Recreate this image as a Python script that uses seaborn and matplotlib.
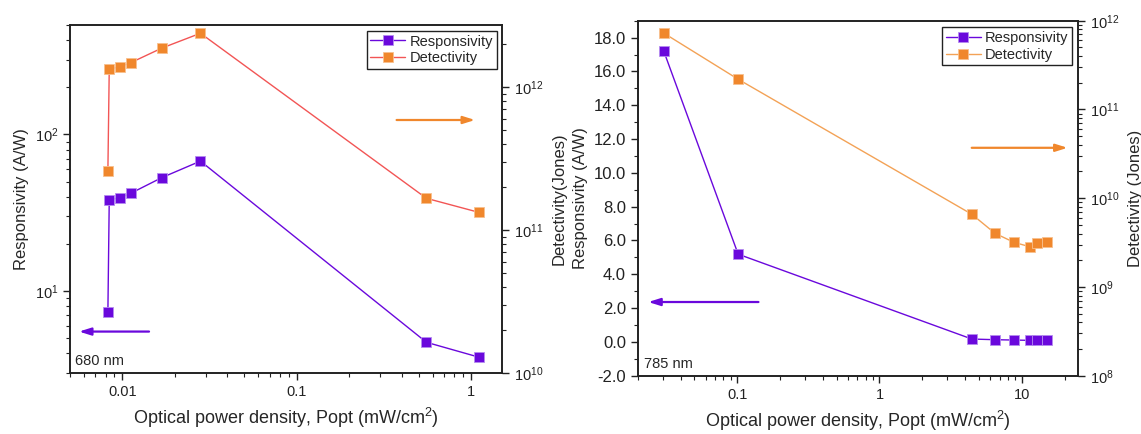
import matplotlib
matplotlib.use("Agg")
import matplotlib.pyplot as plt
from matplotlib.ticker import NullFormatter, MultipleLocator, FormatStrFormatter
import seaborn as sns
import pandas as pd

# 680 nm illumination
p680 = [0.00825, 0.0084, 0.00966, 0.0112, 0.0168, 0.028, 0.553, 1.11]
resp680 = [7.3, 38.1, 39.5, 42.2, 53.0, 67.6, 4.71, 3.78]
det680 = [2.58e11, 1.34e12, 1.39e12, 1.49e12, 1.88e12, 2.39e12, 1.67e11, 1.33e11]

# 785 nm illumination
p785 = [0.0304, 0.1016, 4.46, 6.49, 8.83, 11.4, 12.9, 15.0]
resp785 = [17.23, 5.19, 0.17, 0.13, 0.11, 0.09, 0.09, 0.09]
det785 = [7.27e11, 2.19e11, 6.59e9, 4.02e9, 3.18e9, 2.84e9, 3.13e9, 3.18e9]

PURPLE = "#6a08dc"
ORANGE = "#f0872c"
RED = "#f25555"
LORANGE = "#f3a256"

sns.set_style("ticks")
plt.rcParams["font.family"] = ["Liberation Sans", "DejaVu Sans"]
plt.rcParams["mathtext.fontset"] = "custom"
plt.rcParams["mathtext.rm"] = "Liberation Sans"
plt.rcParams["axes.edgecolor"] = "#222222"
plt.rcParams["axes.linewidth"] = 1.2
plt.rcParams["xtick.color"] = "#222222"
plt.rcParams["ytick.color"] = "#222222"

fig = plt.figure(figsize=(11.41, 4.34), dpi=100)
ax1 = fig.add_axes([0.0613, 0.1406, 0.3787, 0.8018])
ax3 = fig.add_axes([0.5589, 0.1343, 0.3862, 0.8180])

df680 = pd.DataFrame({"p": p680, "r": resp680, "d": det680})
df785 = pd.DataFrame({"p": p785, "r": resp785, "d": det785})

LBL = 12
XLBL = 13
TCK = 10.5
XLABEL = "Optical power density, Popt (mW/cm$^{2}$)"


def style_ticks(ax, size=TCK):
    ax.tick_params(which="major", direction="out", length=5, width=1.0, labelsize=size)
    ax.tick_params(which="minor", direction="out", length=3, width=0.8)


def add_legend(ax_main, ax_twin, anchor):
    h1, l1 = ax_main.get_legend_handles_labels()
    h2, l2 = ax_twin.get_legend_handles_labels()
    if ax_main.get_legend():
        ax_main.get_legend().remove()
    leg = ax_twin.legend(h1 + h2, l1 + l2, loc="upper right", bbox_to_anchor=anchor,
                         frameon=True, fancybox=False, edgecolor="#222222", framealpha=1,
                         fontsize=10.5, handlelength=2.4, handletextpad=0.3,
                         labelspacing=0.2, borderpad=0.25, borderaxespad=0)
    leg.get_frame().set_linewidth(1.0)


def arrow(ax, tail, head, color):
    ax.annotate("", xy=head, xytext=tail, xycoords="axes fraction", textcoords="axes fraction",
                arrowprops=dict(arrowstyle="-|>,head_length=0.7,head_width=0.22",
                                color=color, lw=1.6, shrinkA=0, shrinkB=0))


# ---- Left panel: 680 nm ----
sns.lineplot(data=df680, x="p", y="r", ax=ax1, color=PURPLE, marker="s", markersize=7,
             markeredgecolor="#b58cf0", markeredgewidth=0.6, linewidth=1.0, label="Responsivity")
ax2 = ax1.twinx()
sns.lineplot(data=df680, x="p", y="d", ax=ax2, color=RED, marker="s", markersize=7,
             markerfacecolor=ORANGE, markeredgecolor="#f8c08e", markeredgewidth=0.6,
             linewidth=1.0, label="Detectivity")
ax1.set_xscale("log")
ax1.set_yscale("log")
ax2.set_yscale("log")
ax1.set_xlim(0.005, 1.5)
ax1.set_ylim(3, 500)
ax2.set_ylim(1e10, 2.73e12)
ax1.set_xticks([0.01, 0.1, 1], labels=["0.01", "0.1", "1"])
ax1.xaxis.set_minor_formatter(NullFormatter())
ax1.yaxis.set_minor_formatter(NullFormatter())
ax2.yaxis.set_minor_formatter(NullFormatter())
ax1.set_xlabel(XLABEL, fontsize=XLBL, labelpad=5)
ax1.set_ylabel("Responsivity (A/W)", fontsize=LBL, labelpad=4)
ax2.set_ylabel("Detectivity(Jones)", fontsize=LBL, labelpad=6)
for a in (ax1, ax2):
    style_ticks(a)
add_legend(ax1, ax2, (0.988, 0.983))
arrow(ax1, (0.183, 0.119), (0.021, 0.119), PURPLE)
arrow(ax2, (0.756, 0.727), (0.9375, 0.727), ORANGE)
ax1.text(0.012, 0.034, "680 nm", transform=ax1.transAxes, fontsize=10.5, va="center", ha="left")

# ---- Right panel: 785 nm ----
sns.lineplot(data=df785, x="p", y="r", ax=ax3, color=PURPLE, marker="s", markersize=7,
             markeredgecolor="#b58cf0", markeredgewidth=0.6, linewidth=1.0, label="Responsivity")
ax4 = ax3.twinx()
sns.lineplot(data=df785, x="p", y="d", ax=ax4, color=LORANGE, marker="s", markersize=7,
             markerfacecolor=ORANGE, markeredgecolor="#f8c08e", markeredgewidth=0.6,
             linewidth=1.0, label="Detectivity")
ax3.set_xscale("log")
ax4.set_yscale("log")
ax3.set_xlim(0.02, 25)
ax3.set_ylim(-2, 19)
ax4.set_ylim(1e8, 1e12)
ax3.set_xticks([0.1, 1, 10], labels=["0.1", "1", "10"])
ax3.xaxis.set_minor_formatter(NullFormatter())
ax3.yaxis.set_major_locator(MultipleLocator(2))
ax3.yaxis.set_minor_locator(MultipleLocator(1))
ax3.yaxis.set_major_formatter(FormatStrFormatter("%.1f"))
ax4.yaxis.set_minor_formatter(NullFormatter())
ax3.set_xlabel(XLABEL, fontsize=XLBL, labelpad=5)
ax3.set_ylabel("Responsivity (A/W)", fontsize=LBL, labelpad=4)
ax4.set_ylabel("Detectivity (Jones)", fontsize=LBL, labelpad=6)
style_ticks(ax3)
ax3.tick_params(axis="y", which="major", labelsize=12)
style_ticks(ax4)
add_legend(ax3, ax4, (0.9857, 0.982))
arrow(ax3, (0.274, 0.2076), (0.024, 0.2076), PURPLE)
arrow(ax4, (0.758, 0.642), (0.9755, 0.642), ORANGE)
ax3.text(0.014, 0.033, "785 nm", transform=ax3.transAxes, fontsize=10.5, va="center", ha="left")

fig.savefig("out.png", dpi=100)
